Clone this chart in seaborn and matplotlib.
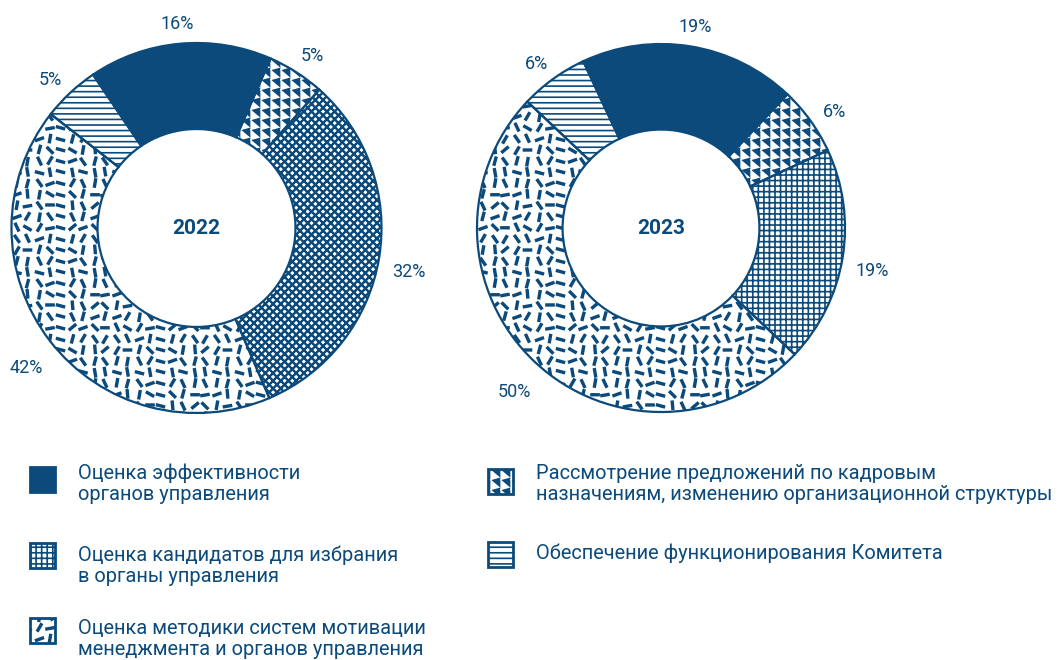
import warnings
import numpy as np
import matplotlib
matplotlib.use("Agg")
import matplotlib.pyplot as plt
import matplotlib.hatch as mhatch
from matplotlib.path import Path
from matplotlib.patches import Rectangle
import seaborn as sns

warnings.filterwarnings("ignore")

# данные
years = ["2022", "2023"]
shares_2022 = [16, 5, 32, 42, 5]
shares_2023 = [19, 6, 19, 50, 6]
start_angles = [124, 115]
categories = [
    "Оценка эффективности\nорганов управления",
    "Рассмотрение предложений по кадровым\nназначениям, изменению организационной структуры",
    "Оценка кандидатов для избрания\nв органы управления",
    "Оценка методики систем мотивации\nменеджмента и органов управления",
    "Обеспечение функционирования Комитета",
]

BLUE = "#0b4a7b"

sns.set_theme(style="white")
plt.rcParams["font.family"] = ["Liberation Sans Narrow", "Roboto", "DejaVu Sans"]
plt.rcParams["hatch.linewidth"] = 1.2


# --- свои штриховки: треугольники ('t'), черточки ('r'), косая сетка ('d') ---
def _polys_to_path(polys, vertices, codes):
    k = 0
    for poly in polys:
        n = len(poly)
        vertices[k:k + n] = poly
        vertices[k + n] = poly[0]
        codes[k] = Path.MOVETO
        codes[k + 1:k + n] = Path.LINETO
        codes[k + n] = Path.CLOSEPOLY
        k += n + 1


def triangle_polys():
    polys = []
    c = 0.1
    for i in range(10):
        for j in range(10):
            x0, y0 = i * c, j * c
            polys.append([(x0 + 0.12 * c, y0 + 0.08 * c),
                          (x0 + 0.12 * c, y0 + 0.9 * c),
                          (x0 + 0.85 * c, y0 + 0.28 * c)])
    return polys


def dash_polys():
    polys = []
    n = 9
    c = 1 / n
    angles = [10, 80, 135, 60, 100, 20, 150, 75, 40, 115, 95, 165, 0, 125]
    hl, hw = 0.04, 0.0085
    for i in range(n):
        for j in range(n):
            a = np.deg2rad(angles[(i * 5 + j * 9 + i * j) % 14])
            cx = i * c + c / 2 + ((i * 3 + j * 5) % 5 - 2) * 0.003
            cy = j * c + c / 2 + ((i * 7 + j * 2) % 5 - 2) * 0.003
            d = np.array([np.cos(a), np.sin(a)])
            p = np.array([-np.sin(a), np.cos(a)])
            ctr = np.array([cx, cy])
            polys.append([tuple(ctr + hl * d + hw * p), tuple(ctr - hl * d + hw * p),
                          tuple(ctr - hl * d - hw * p), tuple(ctr + hl * d - hw * p)])
    return polys


def diag_polys():
    polys = []
    n, t = 13, 0.005
    for k in range(-n, n + 1):
        b = k / n
        polys.append([(-0.1, -0.1 + b - t), (1.1, 1.1 + b - t),
                      (1.1, 1.1 + b + t), (-0.1, -0.1 + b + t)])
        polys.append([(-0.1, 1.1 + b - t), (1.1, -0.1 + b - t),
                      (1.1, -0.1 + b + t), (-0.1, 1.1 + b + t)])
    return polys


def make_hatch(letter, builder):
    class CustomHatch(mhatch.HatchPatternBase):
        def __init__(self, hatch, density):
            self.polys = builder() if letter in hatch else []
            self.num_vertices = sum(len(p) + 1 for p in self.polys)

        def set_vertices_and_codes(self, vertices, codes):
            _polys_to_path(self.polys, vertices, codes)
    return CustomHatch


mhatch._hatch_types.extend([make_hatch("t", triangle_polys),
                            make_hatch("r", dash_polys),
                            make_hatch("d", diag_polys)])

# стиль сегментов: (заливка, цвет штриховки, штриховка)
styles_2022 = [(BLUE, BLUE, None), (BLUE, "white", "t"), ("white", BLUE, "d"),
               ("white", BLUE, "r"), ("white", BLUE, "---")]
styles_2023 = [(BLUE, BLUE, None), (BLUE, "white", "t"), ("white", BLUE, "+++"),
               ("white", BLUE, "r"), ("white", BLUE, "---")]

fig = plt.figure(figsize=(10.59, 6.6), dpi=100)

W, H = 1059, 660
donuts = [(196.5, 228, 185), (661, 228, 184)]
ring = 0.465

for year, shares, styles, start, (cx, cy, r) in zip(
        years, [shares_2022, shares_2023], [styles_2022, styles_2023],
        start_angles, donuts):
    ax = fig.add_axes([(cx - r) / W, (H - cy - r) / H, 2 * r / W, 2 * r / H])
    wedges, _, autotexts = ax.pie(
        shares, startangle=start, counterclock=False,
        autopct="%d%%", pctdistance=1.16,
        wedgeprops=dict(width=ring, linewidth=0),
        textprops=dict(color=BLUE, fontsize=13))
    for w, (fc, hc, h) in zip(wedges, styles):
        w.set_facecolor(fc)
        w.set_edgecolor(hc)
        w.set_linewidth(0)
        if h:
            w.set_hatch(h)
    for t in autotexts:
        x, y = t.get_position()
        t.set_position((x, y - 0.05))
    ax.pie(shares, startangle=start, counterclock=False,
           wedgeprops=dict(width=ring, fill=False, edgecolor=BLUE, linewidth=1.6))
    ax.text(0, 0, year, ha="center", va="center", fontsize=15,
            fontweight="bold", color=BLUE)
    ax.set_xlim(-1, 1)
    ax.set_ylim(-1, 1)
    ax.set_aspect("equal")
    ax.axis("off")

# легенда
leg = fig.add_axes([0, 0, 1, 1])
leg.set_xlim(0, W)
leg.set_ylim(H, 0)
leg.axis("off")

legend_items = [
    # (x иконки, y иконки, x текста, y центра текста, категория, стиль)
    (30, 467, 78, 484, 0, (BLUE, BLUE, None)),
    (488, 469, 536, 484, 1, (BLUE, "white", "t")),
    (30, 543, 78, 566, 2, ("white", BLUE, "+++")),
    (30, 618, 78, 639, 3, ("white", BLUE, "r")),
    (488, 542, 536, 553, 4, ("white", BLUE, "---")),
]
for ix, iy, tx, ty, k, (fc, hc, h) in legend_items:
    leg.add_patch(Rectangle((ix, iy), 25, 25, facecolor=fc, edgecolor=hc,
                            linewidth=0, hatch=h))
    leg.add_patch(Rectangle((ix, iy), 25, 25, fill=False, edgecolor=BLUE,
                            linewidth=2))
    leg.text(tx, ty, categories[k], ha="left", va="center", fontsize=14.4,
             color=BLUE, linespacing=1.15)

fig.savefig("out.png", dpi=100)
